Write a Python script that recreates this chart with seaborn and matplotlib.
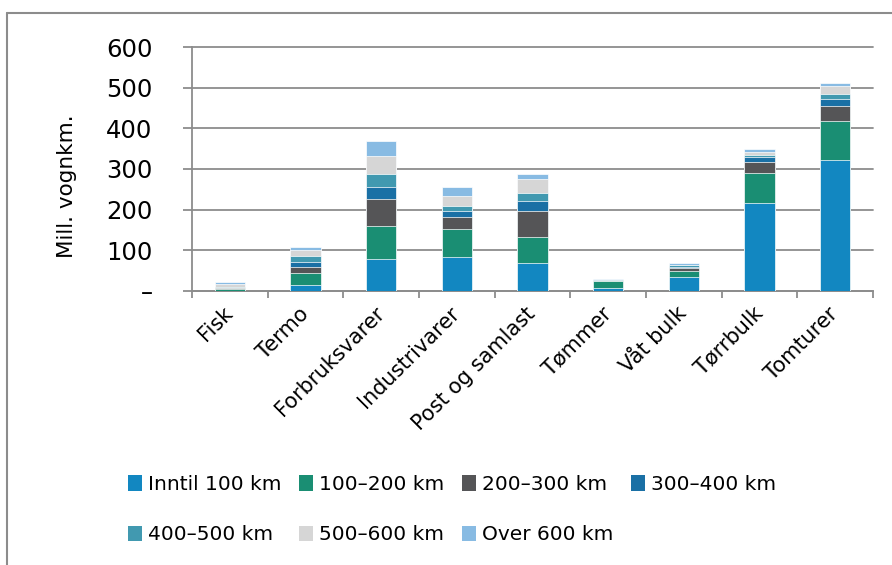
import numpy as np
import pandas as pd
import matplotlib
matplotlib.use("Agg")
import matplotlib.pyplot as plt
import seaborn as sns
from matplotlib.patches import Patch
from matplotlib.lines import Line2D

sns.set_style("white")
plt.rcParams['font.family'] = ['DejaVu Sans']
plt.rcParams['text.color'] = 'black'
plt.rcParams['xtick.labelcolor'] = 'black'
plt.rcParams['ytick.labelcolor'] = 'black'
plt.rcParams['axes.labelcolor'] = 'black'

# data (mill. vognkm.)
categories = ["Fisk", "Termo", "Forbruksvarer", "Industrivarer", "Post og samlast",
              "Tømmer", "Våt bulk", "Tørrbulk", "Tomturer"]
inntil_100 = [1, 15, 78, 83, 68, 8, 34, 216, 321]
km_100_200 = [5, 29, 82, 69, 64, 16, 14, 74, 98]
km_200_300 = [1, 16, 66, 29, 65, 1, 8, 27, 36]
km_300_400 = [1, 11, 30, 15, 25, 1, 4, 12, 16]
km_400_500 = [2, 14, 32, 14, 20, 1, 3, 6, 13]
km_500_600 = [6, 16, 43, 23, 34, 1, 2, 7, 19]
over_600 = [7, 7, 39, 22, 12, 1, 5, 7, 9]

series_names = ["Inntil 100 km", "100–200 km", "200–300 km", "300–400 km",
                "400–500 km", "500–600 km", "Over 600 km"]
series = [inntil_100, km_100_200, km_200_300, km_300_400, km_400_500, km_500_600, over_600]
colors = ["#1287c1", "#1a8e73", "#555557", "#1a70a5", "#4199b0", "#d6d6d6", "#88bbe3"]
y_ticks = [0, 100, 200, 300, 400, 500, 600]
y_ticklabels = ["–", "100", "200", "300", "400", "500", "600"]

fig = plt.figure(figsize=(8.92, 5.65), dpi=100)
ax = fig.add_axes([0.2152, 0.4850, 0.7635, 0.4318])

# stacked bars: draw cumulative totals from the top down
cum = np.cumsum(np.array(series), axis=0)
for i in range(len(series) - 1, -1, -1):
    sns.barplot(x=categories, y=cum[i], color=colors[i], saturation=1, width=0.4,
                edgecolor="white", linewidth=0.5, ax=ax, zorder=3)

ax.set_xlim(-0.5, len(categories) - 0.5)
ax.set_ylim(0, 600)
ax.set_yticks(y_ticks)
ax.set_yticklabels(y_ticklabels)
ax.yaxis.grid(True, color="#8c8c8c", linewidth=1.3, zorder=0)
ax.set_axisbelow(True)
for ln in ax.get_ygridlines():
    ln.set_clip_on(False)

for s in ["top", "right"]:
    ax.spines[s].set_visible(False)
for s in ["left", "bottom"]:
    ax.spines[s].set_color("#8c8c8c")
    ax.spines[s].set_linewidth(1.3)

ax.tick_params(axis="y", direction="out", length=6.5, width=1.3, color="#8c8c8c",
               labelsize=17.5, pad=22, left=True, labelcolor="black")
ax.set_xticks(np.arange(-0.5, len(categories), 1.0), minor=True)
ax.tick_params(axis="x", which="minor", direction="out", length=5, width=1.3,
               color="#8c8c8c", bottom=True)
ax.tick_params(axis="x", which="major", length=0, pad=14, labelsize=15, labelcolor="black")
for lab in ax.get_xticklabels():
    lab.set_rotation(45)
    lab.set_ha("right")
    lab.set_va("center")
    lab.set_rotation_mode("anchor")

ax.set_xlabel("")
ax.set_ylabel("Mill. vognkm.", fontsize=15.5, color="black")
ax.yaxis.set_label_coords(-0.183, 0.43)
ax.yaxis.label.set_va("center")

# legend filled row by row (matplotlib fills columns first)
order = [0, 4, 1, 5, 2, 6, 3]
handles = [Patch(facecolor=colors[k], edgecolor="none") for k in order]
labels = [series_names[k] for k in order]
fig.legend(handles, labels, loc="upper left", bbox_to_anchor=(0.143, 1 - 475 / 565),
           ncol=4, frameon=False, fontsize=14.5, handlelength=0.72, handleheight=0.78,
           handletextpad=0.3, columnspacing=0.85, labelspacing=1.55, borderpad=0,
           borderaxespad=0, labelcolor="black")

# outer frame (left and top edges)
fig.add_artist(Line2D([7 / 892, 7 / 892], [0, 1 - 13 / 565], transform=fig.transFigure,
                      color="#8c8c8c", linewidth=1.5))
fig.add_artist(Line2D([7 / 892, 1], [1 - 13 / 565, 1 - 13 / 565], transform=fig.transFigure,
                      color="#8c8c8c", linewidth=1.5))

fig.savefig("out.png", dpi=100)
